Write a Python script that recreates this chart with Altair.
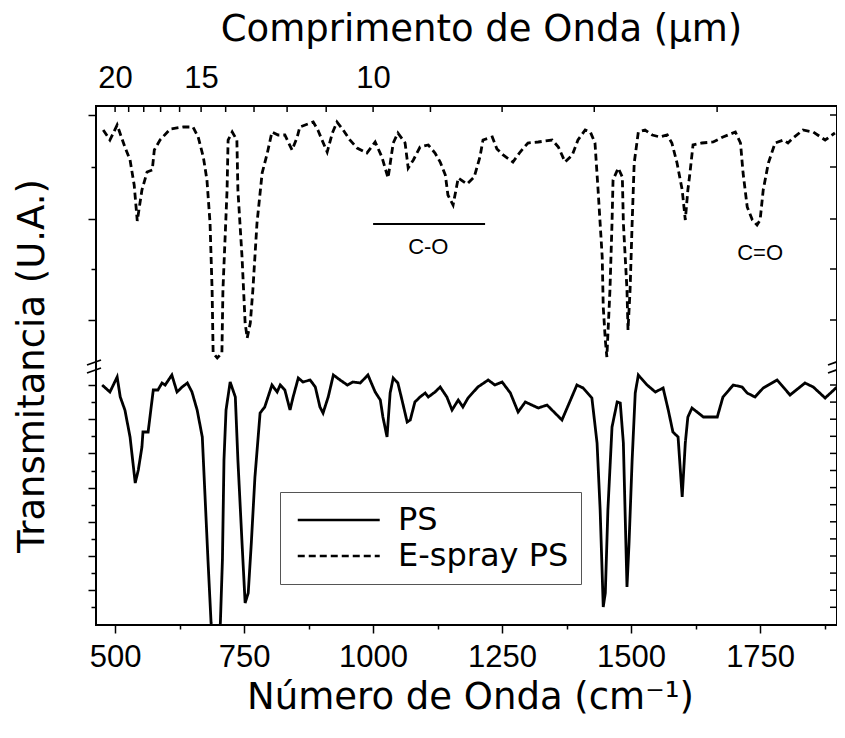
import altair as alt
import pandas as pd

# ---------------- data ----------------
# E-spray PS (dashed, upper panel): wavenumber (cm-1) and transmittance (arbitrary units)
upper_wn = [477, 490, 504, 519, 529, 537, 543, 552, 562, 572,
            576, 587, 607, 632, 651, 661, 671, 678, 684, 688,
            690, 698, 707, 709, 717, 719, 727, 736, 738, 746,
            752, 756, 762, 767, 775, 785, 795, 804, 816, 829,
            843, 853, 858, 884, 893, 901, 911, 921, 930, 942,
            955, 969, 988, 1004, 1017, 1029, 1039, 1048, 1062, 1068,
            1078, 1091, 1107, 1120, 1130, 1140, 1145, 1155, 1165, 1182,
            1196, 1207, 1213, 1231, 1240, 1252, 1271, 1285, 1300, 1320,
            1347, 1359, 1372, 1386, 1397, 1411, 1421, 1430, 1436, 1444,
            1446, 1450, 1453, 1459, 1463, 1465, 1475, 1483, 1485, 1492,
            1494, 1498, 1502, 1506, 1514, 1527, 1541, 1556, 1570, 1579,
            1589, 1599, 1605, 1610, 1614, 1620, 1637, 1659, 1678, 1702,
            1712, 1717, 1725, 1735, 1744, 1750, 1756, 1766, 1779, 1795,
            1804, 1814, 1833, 1853, 1876, 1895]
upper_val = [495, 485, 500, 478, 465, 440, 404, 435, 453, 455,
             475, 485, 496, 498, 498, 488, 468, 445, 402, 335,
             272, 267, 272, 335, 435, 485, 493, 485, 435, 368,
             302, 287, 302, 335, 402, 452, 472, 493, 490, 490,
             475, 488, 498, 503, 495, 485, 473, 492, 503, 495,
             485, 477, 472, 483, 468, 447, 482, 492, 482, 457,
             465, 478, 480, 472, 463, 450, 430, 420, 447, 441,
             448, 468, 485, 488, 476, 470, 463, 473, 482, 483,
             485, 478, 463, 470, 485, 495, 493, 482, 435, 368,
             318, 285, 268, 335, 402, 445, 457, 448, 402, 335,
             295, 335, 402, 462, 493, 495, 490, 488, 490, 482,
             462, 435, 405, 435, 452, 480, 482, 483, 488, 493,
             482, 452, 418, 405, 400, 405, 435, 462, 482, 485,
             482, 487, 495, 493, 485, 492]

# PS (solid, lower panel)
lower_wn = [475, 490, 504, 510, 519, 529, 539, 545, 552, 554,
            564, 574, 583, 591, 597, 610, 620, 630, 640, 649,
            659, 669, 674, 680, 686, 696, 704, 708, 711, 715,
            723, 733, 738, 746, 752, 758, 764, 771, 781, 790,
            804, 814, 820, 829, 839, 845, 855, 864, 878, 888,
            897, 903, 913, 923, 936, 950, 961, 975, 990, 1004,
            1014, 1019, 1027, 1033, 1039, 1048, 1056, 1066, 1072, 1081,
            1091, 1101, 1107, 1120, 1130, 1143, 1153, 1165, 1174, 1184,
            1203, 1223, 1236, 1250, 1266, 1281, 1295, 1320, 1337, 1366,
            1395, 1407, 1424, 1434, 1440, 1446, 1450, 1455, 1463, 1473,
            1479, 1485, 1492, 1496, 1502, 1508, 1514, 1531, 1547, 1562,
            1572, 1581, 1591, 1599, 1605, 1610, 1618, 1640, 1667, 1678,
            1698, 1715, 1725, 1740, 1756, 1783, 1808, 1837, 1853, 1876,
            1899]
lower_val = [240, 233, 248, 228, 215, 188, 142, 155, 178, 193,
             193, 235, 235, 242, 240, 250, 233, 238, 242, 233,
             215, 188, 132, 65, 2, -40, 2, 65, 165, 215,
             243, 228, 165, 82, 22, 32, 82, 148, 212, 218,
             240, 233, 240, 235, 215, 228, 247, 243, 245, 238,
             218, 212, 228, 250, 245, 240, 243, 242, 250, 233,
             225, 208, 188, 232, 247, 242, 225, 203, 205, 223,
             228, 232, 228, 233, 238, 228, 215, 225, 218, 227,
             238, 245, 240, 243, 232, 213, 223, 217, 220, 205,
             240, 237, 227, 182, 115, 18, 32, 115, 198, 223,
             222, 182, 38, 82, 165, 232, 250, 240, 233, 237,
             215, 193, 188, 128, 182, 208, 217, 208, 208, 228,
             240, 238, 232, 228, 237, 245, 230, 242, 238, 227,
             238]

series_names = ["PS", "E-spray PS"]

# axes / ticks
x_domain = [463, 1899]
y_domain = [0, 519]
bottom_major = [500, 750, 1000, 1250, 1500, 1750]
bottom_minor = [625, 875, 1125, 1375, 1625, 1875]
top_label_um = [20, 15, 10]
top_tick_um = [20, 19, 18, 17, 16, 15, 14, 13, 12, 11, 10, 9, 8, 7, 6]
left_major = [510, 406, 305, 240, 205.8, 171.6, 137.4, 103.2, 69, 34.8]
left_minor = [458, 356, 222.9, 188.7, 154.5, 120.3, 86.1, 51.9, 17.7]

# annotations
annot_text = ["C-O", "C=O"]
annot_wn = [1107, 1750]
annot_val = [378, 372]
co_bar_wn = [1000, 1217]
co_bar_val = [401]

W, H = 741, 519

# ---------------- build tables ----------------
df = pd.concat([
    pd.DataFrame({"wn": lower_wn, "val": lower_val, "series": series_names[0]}),
    pd.DataFrame({"wn": upper_wn, "val": upper_val, "series": series_names[1]}),
], ignore_index=True)

xs = alt.Scale(domain=x_domain, nice=False, zero=False)
ys = alt.Scale(domain=y_domain, nice=False, zero=False)

lines = alt.Chart(df).mark_line(color="black", strokeWidth=2.8, clip=True).encode(
    x=alt.X("wn:Q", scale=xs, axis=alt.Axis(
        orient="bottom", values=bottom_major, format="d", tickSize=8, labelPadding=9,
        title="Número de Onda (cm⁻¹)", titleX=374, titleY=83, titleBaseline="alphabetic",
        titleAlign="center", domain=False, grid=False)),
    y=alt.Y("val:Q", scale=ys, axis=alt.Axis(
        orient="left", values=left_major, labels=False, tickSize=8,
        title="Transmitancia (U.A.)", titleX=-53, titleY=H / 2, titleAngle=270,
        titleBaseline="alphabetic", titleAlign="center", domain=False, grid=False)),
    strokeDash=alt.StrokeDash("series:N",
        scale=alt.Scale(domain=series_names, range=[[1, 0], [7, 4]]),
        legend=alt.Legend(title=None, orient="none", legendX=184, legendY=386,
                          direction="vertical", symbolType="M-1,0H7", symbolSize=420,
                          symbolStrokeWidth=2.5, symbolStrokeColor="black",
                          labelFont="DejaVu Sans", labelFontSize=32, labelColor="black",
                          labelOffset=74, labelLimit=0, padding=12, rowPadding=4,
                          strokeColor="#555555")),
)

co_df = pd.DataFrame({"wn": [co_bar_wn[0]], "wn2": [co_bar_wn[1]], "val": co_bar_val})
co_bar = alt.Chart(co_df).mark_rule(color="black", strokeWidth=2).encode(
    x=alt.X("wn:Q", scale=xs, axis=alt.Axis(
        orient="bottom", values=bottom_minor, labels=False, tickSize=4,
        domain=False, grid=False, title=None)),
    x2="wn2:Q",
    y=alt.Y("val:Q", scale=ys, axis=alt.Axis(
        orient="left", values=left_minor, labels=False, tickSize=5,
        domain=False, grid=False, title=None)),
)

ann_df = pd.DataFrame({"wn": annot_wn, "val": annot_val, "label": annot_text})
ann = alt.Chart(ann_df).mark_text(font="Liberation Sans", fontSize=22, color="black").encode(
    x=alt.X("wn:Q", scale=xs, axis=alt.Axis(
        orient="top", values=[10000 / u for u in top_label_um],
        labelExpr="format(10000 / datum.value, '.0f')", ticks=False, tickSize=0,
        labelPadding=19, labelBaseline="alphabetic",
        title="Comprimento de Onda (μm)", titleX=385, titleY=-66,
        titleBaseline="alphabetic", titleAlign="center", domain=False, grid=False)),
    y=alt.Y("val:Q", scale=ys, axis=None),
    text="label:N",
)

um_df = pd.DataFrame({"um": top_tick_um})
top_ticks = alt.Chart(um_df).transform_calculate(
    wn="10000 / datum.um"
).mark_rule(color="black", strokeWidth=1.5).encode(
    x=alt.X("wn:Q", scale=xs, axis=None),
    y=alt.value(0), y2=alt.value(6),
)

rt_df = pd.DataFrame({"val": left_major + left_minor})
right_ticks = alt.Chart(rt_df).mark_rule(color="black", strokeWidth=1.5).encode(
    y=alt.Y("val:Q", scale=ys, axis=None),
    x=alt.value(W - 7), x2=alt.value(W),
)

brk_df = pd.DataFrame({
    "x1": [-9, -9, W - 9, W - 9], "x2": [5, 5, W + 5, W + 5],
    "y1": [267, 259, 267, 259], "y2": [262, 254, 262, 254],
})
breaks = alt.Chart(brk_df).mark_rule(color="black", strokeWidth=1.8).encode(
    x=alt.X("x1:Q", scale=None), x2="x2:Q",
    y=alt.Y("y1:Q", scale=None), y2="y2:Q",
)

chart = alt.layer(lines, co_bar, ann, top_ticks, right_ticks, breaks).resolve_scale(
    x="shared", y="shared"
).resolve_axis(
    x="independent", y="independent"
).properties(
    width=W, height=H,
    autosize=alt.AutoSizeParams(type="none"),
    padding={"left": 88, "top": 98, "right": 0, "bottom": 100},
    background="white",
).configure_view(
    stroke="black", strokeWidth=2
).configure_axis(
    labelFont="Liberation Sans", labelFontSize=31, labelColor="black",
    titleFont="DejaVu Sans", titleFontSize=37, titleFontWeight="normal", titleColor="black",
    tickColor="black", tickWidth=1.5,
)

chart.save("out.html", embed_options={"renderer": "svg", "actions": False})
